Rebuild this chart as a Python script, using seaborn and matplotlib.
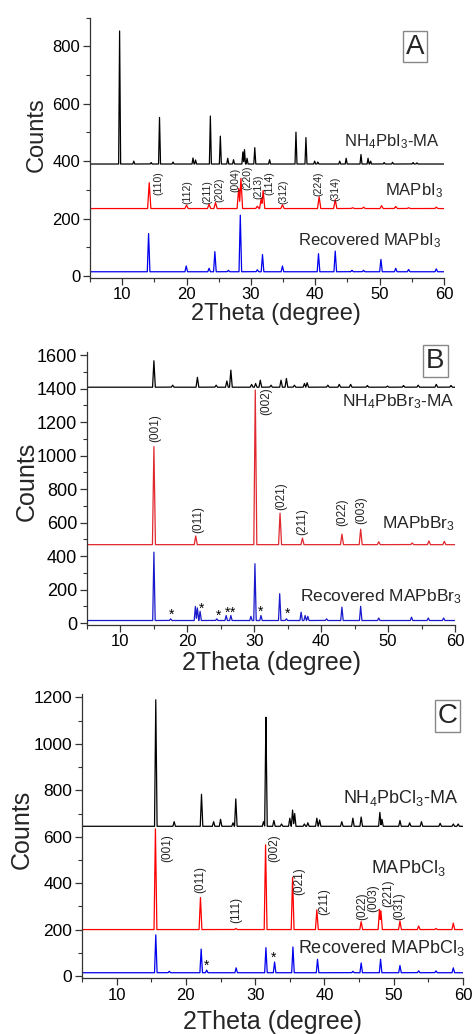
import numpy as np
import pandas as pd
import matplotlib
matplotlib.use("Agg")
import matplotlib.pyplot as plt
from matplotlib.ticker import MultipleLocator
import seaborn as sns

# ---------------- data (peak lists) ----------------
# Panel A
A_nh4_base = 390
A_nh4_pos = [9.6, 11.8, 14.5, 15.8, 17.9, 21.0, 21.4, 23.7, 25.25, 26.4, 27.3, 28.75, 29.0, 29.4, 30.6,
             32.9, 37.0, 38.55, 39.9, 40.4, 43.8, 44.8, 47.1, 48.2, 48.6, 50.7, 52.0, 55.2, 55.8]
A_nh4_int = [853, 400, 395, 552, 397, 411, 404, 557, 487, 410, 405, 432, 440, 410, 447,
             405, 501, 482, 400, 397, 400, 410, 423, 410, 400, 395, 396, 395, 394]
A_ma_base = 235
A_ma_pos = [14.2, 20.0, 23.5, 24.5, 28.1, 28.45, 31.0, 31.6, 31.9, 34.9, 40.6, 43.1, 45.8, 47.5, 50.3, 52.5, 54.5, 58.8]
A_ma_int = [325, 247, 250, 256, 305, 340, 243, 270, 298, 248, 276, 266, 238, 240, 245, 242, 238, 240]
A_rec_base = 15
A_rec_pos = [14.1, 19.95, 23.5, 24.4, 26.5, 28.35, 31.0, 31.8, 34.9, 40.5, 43.1, 45.7, 47.5, 50.2, 52.5, 54.5, 58.8]
A_rec_int = [148, 35, 27, 85, 20, 212, 22, 75, 35, 78, 87, 20, 20, 58, 27, 23, 25]
A_hkl = ["(110)", "(112)", "(211)", "(202)", "(004)", "(220)", "(213)", "(114)", "(312)", "(224)", "(314)"]
A_hkl_x = [15.7, 20.2, 23.3, 25.1, 27.6, 29.5, 31.2, 32.9, 35.05, 40.5, 43.1]
A_hkl_y = [325, 293, 293, 299, 334, 343, 311, 322, 293, 322, 305]

# Panel B
B_nh4_base = 1408
B_nh4_pos = [15.0, 17.8, 21.5, 24.3, 25.9, 26.5, 29.6, 30.2, 30.9, 32.5, 34.0, 34.8, 36.0, 37.5, 37.9,
             41.0, 42.7, 44.4, 46.9, 49.9, 52.3, 54.5, 57.2, 59.4]
B_nh4_int = [1566, 1420, 1467, 1420, 1445, 1510, 1425, 1430, 1450, 1420, 1450, 1460, 1420, 1430, 1435,
             1420, 1425, 1425, 1418, 1415, 1418, 1420, 1425, 1418]
B_ma_base = 468
B_ma_pos = [15.0, 21.25, 30.15, 33.85, 37.2, 43.1, 45.9, 48.6, 53.6, 56.1, 58.4]
B_ma_int = [1053, 520, 1391, 656, 507, 531, 560, 485, 478, 490, 488]
B_rec_base = 15
B_rec_pos = [15.0, 17.5, 21.2, 21.5, 21.9, 24.4, 25.8, 26.5, 29.5, 30.1, 31.0, 33.8, 34.8, 37.0, 37.6, 38.0,
             40.8, 43.1, 45.9, 48.6, 53.5, 56.0, 58.3]
B_rec_int = [423, 25, 99, 90, 70, 25, 45, 45, 40, 354, 45, 175, 25, 65, 45, 40,
             25, 95, 100, 30, 35, 30, 30]
B_star_x = [17.6, 22.1, 24.6, 26.0, 26.8, 31.0, 34.9]
B_star_y = [50, 84, 44, 64, 64, 70, 55]
B_hkl = ["(001)", "(011)", "(002)", "(021)", "(211)", "(022)", "(003)"]
B_hkl_x = [15.15, 21.6, 31.75, 34.0, 37.15, 43.2, 46.0]
B_hkl_y = [1163, 616, 1322, 755, 606, 660, 676]

# Panel C
C_nh4_base = 645
C_nh4_pos = [15.65, 18.3, 22.25, 24.0, 25.0, 26.8, 27.2, 31.2, 31.55, 32.7, 33.8, 35.0, 35.4, 35.7, 37.1,
             37.6, 38.9, 39.3, 42.5, 44.1, 45.3, 48.0, 48.3, 50.9, 52.3, 54.0, 56.7, 58.6, 59.3]
C_nh4_int = [1190, 665, 783, 665, 675, 660, 763, 665, 1115, 670, 655, 680, 715, 700, 655,
             660, 680, 672, 665, 680, 685, 705, 675, 670, 660, 665, 658, 655, 655]
C_ma_base = 200
C_ma_pos = [15.6, 22.1, 27.2, 31.5, 35.4, 38.9, 45.3, 47.95, 48.15, 50.9, 53.6, 56.1, 58.6]
C_ma_int = [634, 338, 205, 565, 425, 285, 234, 287, 280, 237, 215, 205, 228]
C_rec_base = 14
C_rec_pos = [15.65, 17.6, 22.2, 23.0, 27.25, 31.55, 32.8, 35.45, 39.0, 44.1, 45.3, 48.1, 50.9, 53.6, 56.1, 58.6]
C_rec_int = [177, 20, 116, 25, 35, 122, 60, 125, 72, 20, 56, 72, 45, 22, 22, 35]
C_star_x = [23.0, 32.7]
C_star_y = [43, 80]
C_hkl = ["(001)", "(011)", "(111)", "(002)", "(021)", "(211)", "(022)", "(003)", "(221)", "(031)"]
C_hkl_x = [17.3, 22.1, 27.25, 32.7, 36.4, 39.9, 45.4, 47.1, 49.2, 50.8]
C_hkl_y = [553, 414, 285, 551, 407, 320, 299, 335, 357, 299]

# ---------------- style ----------------
sns.set_theme(style="ticks")
plt.rcParams["font.family"] = ["Liberation Sans", "DejaVu Sans"]
plt.rcParams["mathtext.fontset"] = "custom"
plt.rcParams["mathtext.rm"] = "Liberation Sans"
plt.rcParams["mathtext.it"] = "Liberation Sans"
plt.rcParams["mathtext.default"] = "regular"

GRID = np.linspace(5, 60, 5501)


def pattern(base, pos, inten, hw):
    y = np.full_like(GRID, float(base))
    for c, h in zip(pos, inten):
        tri = base + (h - base) * np.clip(1 - np.abs(GRID - c) / hw, 0, None)
        y = np.maximum(y, tri)
    return pd.DataFrame({"2theta": GRID, "counts": y})


def setup(ax, ylim, ymaj, yfs):
    ax.set_xlim(5, 60)
    ax.set_ylim(*ylim)
    ax.xaxis.set_major_locator(MultipleLocator(10))
    ax.xaxis.set_minor_locator(MultipleLocator(5))
    ax.yaxis.set_major_locator(MultipleLocator(ymaj))
    ax.yaxis.set_minor_locator(MultipleLocator(100))
    ax.tick_params(which="major", direction="out", length=5, width=0.9, colors="#333333",
                   labelcolor="black")
    ax.tick_params(which="minor", direction="out", length=3, width=0.8, colors="#333333")
    ax.tick_params(axis="y", labelsize=yfs, pad=2)
    ax.tick_params(axis="x", labelsize=12, pad=2)
    sns.despine(ax=ax)
    for s in ("left", "bottom"):
        ax.spines[s].set_color("#333333")
        ax.spines[s].set_linewidth(0.9)


fig = plt.figure(figsize=(4.74, 10.34), dpi=100)
axA = fig.add_axes([90 / 474, 1 - 277.5 / 1034, 354 / 474, 260 / 1034])
axB = fig.add_axes([87 / 474, 1 - 624.7 / 1034, 368 / 474, 273 / 1034])
axC = fig.add_axes([82 / 474, 1 - 978.3 / 1034, 381 / 474, 284.3 / 1034])

panels = [
    (axA, [(A_nh4_base, A_nh4_pos, A_nh4_int, 0.15, "black"),
           (A_ma_base, A_ma_pos, A_ma_int, 0.25, "#ff0000"),
           (A_rec_base, A_rec_pos, A_rec_int, 0.2, "#0000ee")]),
    (axB, [(B_nh4_base, B_nh4_pos, B_nh4_int, 0.2, "black"),
           (B_ma_base, B_ma_pos, B_ma_int, 0.22, "#e0282e"),
           (B_rec_base, B_rec_pos, B_rec_int, 0.18, "#1a1acc")]),
    (axC, [(C_nh4_base, C_nh4_pos, C_nh4_int, 0.18, "black"),
           (C_ma_base, C_ma_pos, C_ma_int, 0.2, "#ff0000"),
           (C_rec_base, C_rec_pos, C_rec_int, 0.18, "#0000ee")]),
]
for ax, series in panels:
    for base, pos, inten, hw, col in series:
        df = pattern(base, pos, inten, hw)
        sns.lineplot(data=df, x="2theta", y="counts", ax=ax, color=col, lw=0.9,
                     estimator=None, sort=False)

setup(axA, (-5, 900), 200, 12)
setup(axB, (-10, 1620), 200, 13)
setup(axC, (-10, 1215), 200, 12.5)

# hkl labels
for ax, labs, xs, ys in [(axA, A_hkl, A_hkl_x, A_hkl_y), (axB, B_hkl, B_hkl_x, B_hkl_y),
                         (axC, C_hkl, C_hkl_x, C_hkl_y)]:
    fs = 7.5 if ax is axA else 8.5
    for s, x, y in zip(labs, xs, ys):
        ax.text(x, y, s, rotation=90, ha="center", va="center", fontsize=fs, color="#222222")

# asterisks
for ax, xs, ys in [(axB, B_star_x, B_star_y), (axC, C_star_x, C_star_y)]:
    for x, y in zip(xs, ys):
        ax.text(x, y, "*", ha="center", va="center", fontsize=10, color="black")

# series labels
lab_fs = 12
axA.text(59.35, 467, r"NH$_4$PbI$_3$-MA", ha="right", va="center", fontsize=lab_fs)
axA.text(59.8, 299, r"MAPbI$_3$", ha="right", va="center", fontsize=lab_fs)
axA.text(59.6, 125, r"Recovered MAPbI$_3$", ha="right", va="center", fontsize=lab_fs)
axB.text(59.85, 1322, r"NH$_4$PbBr$_3$-MA", ha="right", va="center", fontsize=12.5)
axB.text(60.0, 596, r"MAPbBr$_3$", ha="right", va="center", fontsize=12.5)
axB.text(61.0, 159, r"Recovered MAPbBr$_3$", ha="right", va="center", fontsize=12.5)
axC.text(59.3, 769, r"NH$_4$PbCl$_3$-MA", ha="right", va="center", fontsize=13)
axC.text(57.55, 464, r"MAPbCl$_3$", ha="right", va="center", fontsize=13)
axC.text(60.3, 119, r"Recovered MAPbCl$_3$", ha="right", va="center", fontsize=13)

# panel letters
for ax, letter, xy in [(axA, "A", (0.919, 0.888)), (axB, "B", (0.947, 0.965)), (axC, "C", (0.959, 0.923))]:
    ax.text(*xy, letter, transform=ax.transAxes, ha="center", va="center", fontsize=20,
            bbox=dict(boxstyle="square,pad=0.1", fc="white", ec="#888888", lw=1.0), zorder=5)

# axis labels
for ax, fs, ycoords, xcoords in [(axA, 17, (-0.150, 0.55), (0.525, -0.14)),
                                 (axB, 18, (-0.164, 0.524), (0.502, -0.142)),
                                 (axC, 18, (-0.158, 0.525), (0.5, -0.155))]:
    ax.set_ylabel("Counts", fontsize=fs)
    ax.set_xlabel("2Theta (degree)", fontsize=fs)
    ax.yaxis.set_label_coords(*ycoords)
    ax.xaxis.set_label_coords(*xcoords)
    ax.yaxis.label.set_va("center")
    ax.xaxis.label.set_va("center")

fig.savefig("out.png", dpi=100)
